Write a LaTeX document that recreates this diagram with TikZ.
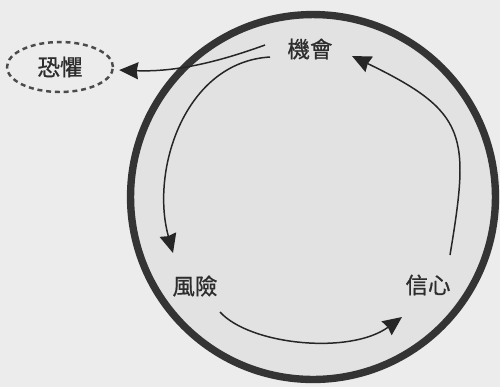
\documentclass[tikz,border=0pt]{standalone}
\usepackage{fontspec}
\newfontfamily\cjk[FakeBold=0.8]{Noto Sans CJK TC}
\usetikzlibrary{arrows.meta,shapes.geometric,calc}
\definecolor{bgc}{RGB}{236,236,236}
\definecolor{inc}{RGB}{226,226,226}
\definecolor{ringc}{RGB}{52,52,52}
\definecolor{txtc}{RGB}{45,45,45}
\definecolor{arrc}{RGB}{38,38,38}
\definecolor{dashc}{RGB}{75,75,75}
\begin{document}
\begin{tikzpicture}[x=0.02cm,y=-0.02cm,
  lbl/.style={text=txtc,font=\cjk\fontsize{12.8pt}{14pt}\selectfont,inner sep=0pt},
  fearbox/.style={ellipse,draw=dashc,line width=1.4pt,dash pattern=on 2.8pt off 2.2pt,
    minimum width=2.12cm,minimum height=1cm},
  conn/.style={draw=arrc,line width=0.85pt,
    -{Stealth[length=3.8mm,width=3.4mm,inset=0.3mm]}}]
\fill[bgc] (0,0) rectangle (500,387);
\useasboundingbox (0,0) rectangle (500,387);
\draw[line width=4.2pt,draw=ringc,fill=inc] (313,197) circle (3.65cm);
\node[lbl] (A) at (310,49) {機會};
\node[lbl] (B) at (195,286) {風險};
\node[lbl] (C) at (428,285) {信心};
\node[lbl,fearbox] (D) at (60,67) {恐懼};
% opportunity -> risk
\draw[conn] ($(A)+(-40,8)$) .. controls (185,62) and (150,170) .. ($(B)+(-22,-33)$);
% opportunity -> fear
\draw[conn] ($(A)+(-45,-4)$) .. controls (210,65) and (170,72) .. ($(D.east)+(5,3)$);
% risk -> confidence
\draw[conn] ($(B)+(25,26)$) .. controls (250,345) and (350,355) .. ($(C)+(-26,32)$);
% confidence -> opportunity
\draw[conn] ($(C)+(22,-30)$) .. controls (470,135) and (468,112) .. ($(A)+(42,7)$);
\end{tikzpicture}
\end{document}
